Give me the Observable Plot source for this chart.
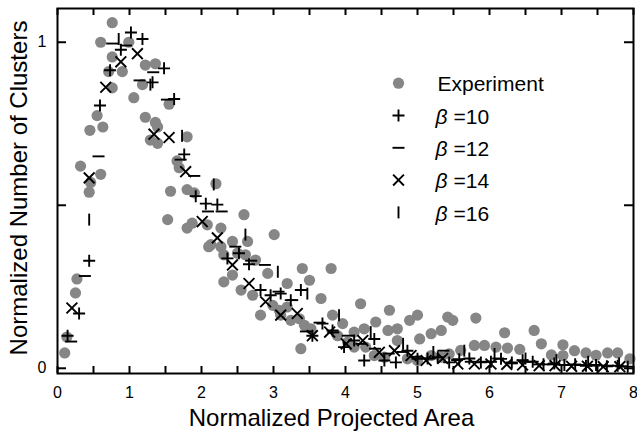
<!DOCTYPE html>
<html><head><meta charset="utf-8">
<script src="https://cdn.jsdelivr.net/npm/d3@7"></script>
<script src="https://cdn.jsdelivr.net/npm/@observablehq/plot@0.6"></script>
<style>
body{margin:0;background:#fff}
</style>
</head><body><div id="chart"></div>
<script>
// ---- data ----
const seriesNames = ["Experiment", "β=10", "β=12", "β=14", "β=16"];
const xTickValues = [0,0.5,1,1.5,2,2.5,3,3.5,4,4.5,5,5.5,6,6.5,7,7.5,8];
const xTickLabels = [0,1,2,3,4,5,6,7,8];
const yTickValues = [0,0.5,1];
const yTickLabels = [0,1];
const xTitle = "Normalized Projected Area";
const yTitle = "Normalized Number of Clusters";

const expX = [0.10,0.13,0.25,0.27,0.32,0.44,0.46,0.45,0.55,0.60,0.63,0.60,0.71,0.76,0.76,0.76,0.90,0.99,1.06,1.18,1.22,1.36,1.22,1.36,1.39,1.29,1.39,1.55,1.80,1.66,1.69,1.57,1.80,1.90,1.53,1.80,1.87,2.08,2.27,2.10,2.13,2.27,2.20,2.59,3.01,2.43,2.64,2.31,2.50,2.61,2.75,2.31,2.43,2.92,2.55,2.71,3.40,3.50,3.80,3.19,3.66,2.99,3.08,3.19,2.82,3.10,3.24,3.36,3.43,3.52,3.82,3.96,3.38,3.89,4.03,4.21,4.61,5.00,4.89,5.42,5.49,5.81,4.42,4.12,4.26,4.59,4.72,5.19,5.33,5.03,4.72,5.79,5.93,6.09,5.60,4.12,4.28,4.40,4.54,4.86,5.00,5.19,5.33,5.44,6.21,6.62,6.72,7.02,6.25,6.42,6.86,7.02,7.18,7.34,7.48,7.64,7.78,7.95];
const expY = [0.047,0.096,0.231,0.274,0.62,0.54,0.57,0.73,0.775,0.595,0.74,1.00,0.91,1.06,0.955,0.86,0.91,1.00,0.83,0.87,0.93,0.934,0.77,0.754,0.74,0.70,0.69,0.81,0.71,0.636,0.615,0.543,0.548,0.538,0.456,0.43,0.445,0.44,0.43,0.373,0.379,0.373,0.566,0.471,0.41,0.389,0.389,0.348,0.353,0.348,0.332,0.265,0.286,0.291,0.24,0.224,0.306,0.27,0.306,0.26,0.214,0.193,0.178,0.188,0.163,0.163,0.147,0.152,0.132,0.121,0.163,0.137,0.06,0.10,0.08,0.198,0.178,0.163,0.147,0.157,0.147,0.154,0.142,0.111,0.121,0.116,0.121,0.106,0.116,0.09,0.085,0.07,0.07,0.065,0.055,0.065,0.065,0.039,0.034,0.029,0.024,0.039,0.034,0.044,0.109,0.116,0.075,0.072,0.062,0.058,0.041,0.039,0.054,0.047,0.040,0.047,0.047,0.029];

const b10X = [0.14,0.30,0.44,0.59,0.73,0.88,1.02,1.18,1.32,1.48,1.62,1.76,1.92,2.06,2.22,2.36,2.52,2.66,2.82,2.96,3.10,3.24,3.38,3.54,3.68,3.82,3.98,4.12,4.26,4.40,4.54,4.70,4.86,5.00,5.14,5.28,5.44,5.58,5.72,5.88,6.02,6.16,6.31,6.46,6.60,6.75,6.90,7.04,7.19,7.34,7.48,7.63,7.78,7.92];
const b10Y = [0.10,0.168,0.33,0.806,0.914,0.977,1.03,1.01,0.877,0.92,0.826,0.656,0.528,0.505,0.502,0.337,0.353,0.319,0.24,0.224,0.229,0.209,0.24,0.10,0.137,0.116,0.065,0.085,0.024,0.09,0.024,0.018,0.054,0.029,0.03,0.034,0.018,0.028,0.03,0.018,0.02,0.029,0.018,0.025,0.02,0.012,0.015,0.01,0.012,0.008,0.01,0.006,0.008,0.005];

const b12X = [0.19,0.38,0.57,0.76,0.95,1.14,1.33,1.52,1.71,1.90,2.09,2.28,2.47,2.69,2.88,3.07,3.26,3.45,3.64,3.83,4.03,4.22,4.41,4.60,4.79,4.98,5.17,5.36,5.55,5.74,5.93,6.12,6.31,6.50,6.69,6.88,7.07,7.26,7.45,7.64,7.83];
const b12Y = [0.082,0.283,0.65,0.996,0.99,0.883,0.908,0.824,0.64,0.59,0.481,0.481,0.373,0.33,0.317,0.235,0.209,0.113,0.14,0.11,0.10,0.075,0.06,0.045,0.05,0.035,0.03,0.054,0.025,0.02,0.02,0.03,0.015,0.02,0.012,0.012,0.01,0.01,0.008,0.008,0.006];

const b14X = [0.20,0.44,0.67,0.88,1.11,1.34,1.55,1.78,2.01,2.22,2.43,2.66,2.89,3.10,3.33,3.54,3.78,4.01,4.24,4.47,4.68,4.91,5.12,5.35,5.56,5.79,6.02,6.24,6.46,6.69,6.91,7.14,7.36,7.58,7.81];
const b14Y = [0.185,0.584,0.862,0.94,0.965,0.718,0.708,0.603,0.45,0.40,0.317,0.26,0.204,0.163,0.168,0.10,0.111,0.075,0.085,0.049,0.054,0.039,0.024,0.03,0.013,0.013,0.013,0.012,0.01,0.008,0.008,0.006,0.006,0.005,0.005];

const b16X = [0.44,0.85,1.29,1.73,2.17,2.61,3.06,3.47,3.91,4.35,4.80,5.22,5.65,6.07,6.50,6.93,7.37,7.80];
const b16Y = [0.456,1.01,0.87,0.713,0.564,0.41,0.296,0.229,0.163,0.111,0.075,0.05,0.054,0.044,0.03,0.025,0.02,0.015];

// ---- build tables ----
const zip = (xs, ys) => xs.map((x, i) => ({x, y: ys[i]}));
const exp = zip(expX, expY);
const b10 = zip(b10X, b10Y), b12 = zip(b12X, b12Y), b14 = zip(b14X, b14Y), b16 = zip(b16X, b16Y);

// custom stroke symbols
const sym = (f) => ({draw(c, size) { const r = Math.sqrt(size / Math.PI); f(c, r); }});
const plusSym = sym((c, r) => { c.moveTo(-r, 0); c.lineTo(r, 0); c.moveTo(0, -r); c.lineTo(0, r); });
const minusSym = sym((c, r) => { c.moveTo(-r, 0); c.lineTo(r, 0); });
const timesSym = sym((c, r) => { const a = r * 0.9; c.moveTo(-a, -a); c.lineTo(a, a); c.moveTo(-a, a); c.lineTo(a, -a); });
const barSym = sym((c, r) => { c.moveTo(0, -r); c.lineTo(0, r); });

const gray = "#868686";
const mk = {r: 6, fill: "none", stroke: "black", strokeWidth: 1.9};
const symbols = [null, plusSym, minusSym, timesSym, barSym];

const W = 637, H = 432, ML = 57, MR = 4, MT = 8, MB = 59;
const FW = W - ML - MR, FH = H - MT - MB;
const font = "'Liberation Sans', Arial, Helvetica, sans-serif";

// legend marks
const legendMarks = [];
seriesNames.forEach((name, i) => {
  const dy = 74.7 + i * 32.3;
  if (i === 0) {
    legendMarks.push(Plot.dot([name], {frameAnchor: "top-left", dx: 341, dy, r: 5.6, fill: gray}));
    legendMarks.push(Plot.text([name], {frameAnchor: "top-left", dx: 380, dy: dy + 1.5, text: d => d, textAnchor: "start", lineAnchor: "middle", fontSize: 21}));
  } else {
    legendMarks.push(Plot.dot([name], {frameAnchor: "top-left", dx: 341, dy, symbol: symbols[i], ...mk}));
    legendMarks.push(Plot.text([name], {frameAnchor: "top-left", dx: 378, dy: dy + 1.5, text: d => d.slice(0, 1), textAnchor: "start", lineAnchor: "middle", fontSize: 21, fontStyle: "italic"}));
    legendMarks.push(Plot.text([name], {frameAnchor: "top-left", dx: 396, dy: dy + 1.5, text: d => d.slice(1), textAnchor: "start", lineAnchor: "middle", fontSize: 21}));
  }
});

const chart = Plot.plot({
  width: W, height: H,
  marginLeft: ML, marginRight: MR, marginTop: MT, marginBottom: MB,
  style: {fontFamily: font, background: "white", color: "black"},
  x: {domain: [0, 8]},
  y: {domain: [-0.016, 1.1035]},
  marks: [
    Plot.dot(exp, {x: "x", y: "y", r: 5.6, fill: gray}),
    Plot.dot(b10, {x: "x", y: "y", symbol: plusSym, ...mk}),
    Plot.dot(b12, {x: "x", y: "y", symbol: minusSym, ...mk}),
    Plot.dot(b14, {x: "x", y: "y", symbol: timesSym, ...mk}),
    Plot.dot(b16, {x: "x", y: "y", symbol: barSym, ...mk}),
    // inward ticks
    Plot.tickX(xTickValues, {x: d => d, stroke: "black", strokeWidth: 2, insetTop: FH - 7}),
    Plot.tickX(xTickValues, {x: d => d, stroke: "black", strokeWidth: 2, insetBottom: FH - 7}),
    Plot.tickY(yTickValues, {y: d => d, stroke: "black", strokeWidth: 2, insetRight: FW - 9}),
    Plot.tickY(yTickValues, {y: d => d, stroke: "black", strokeWidth: 2, insetLeft: FW - 9}),
    Plot.frame({stroke: "black", strokeWidth: 2}),
    Plot.axisX({ticks: xTickLabels, tickSize: 0, tickPadding: 13, fontSize: 16, tickFormat: d => String(d), label: null}),
    Plot.axisY({ticks: yTickLabels, tickSize: 0, tickPadding: 11, fontSize: 16, tickFormat: d => String(d), label: null}),
    Plot.text([xTitle], {frameAnchor: "bottom", text: d => d, textAnchor: "middle", lineAnchor: "top", dy: 35, dx: -14, fontSize: 24}),
    Plot.text([yTitle], {frameAnchor: "left", text: d => d, rotate: -90, textAnchor: "middle", lineAnchor: "top", dx: -47.5, dy: -3, fontSize: 24}),
    ...legendMarks
  ]
});
document.getElementById("chart").appendChild(chart);
</script>
</body></html>
